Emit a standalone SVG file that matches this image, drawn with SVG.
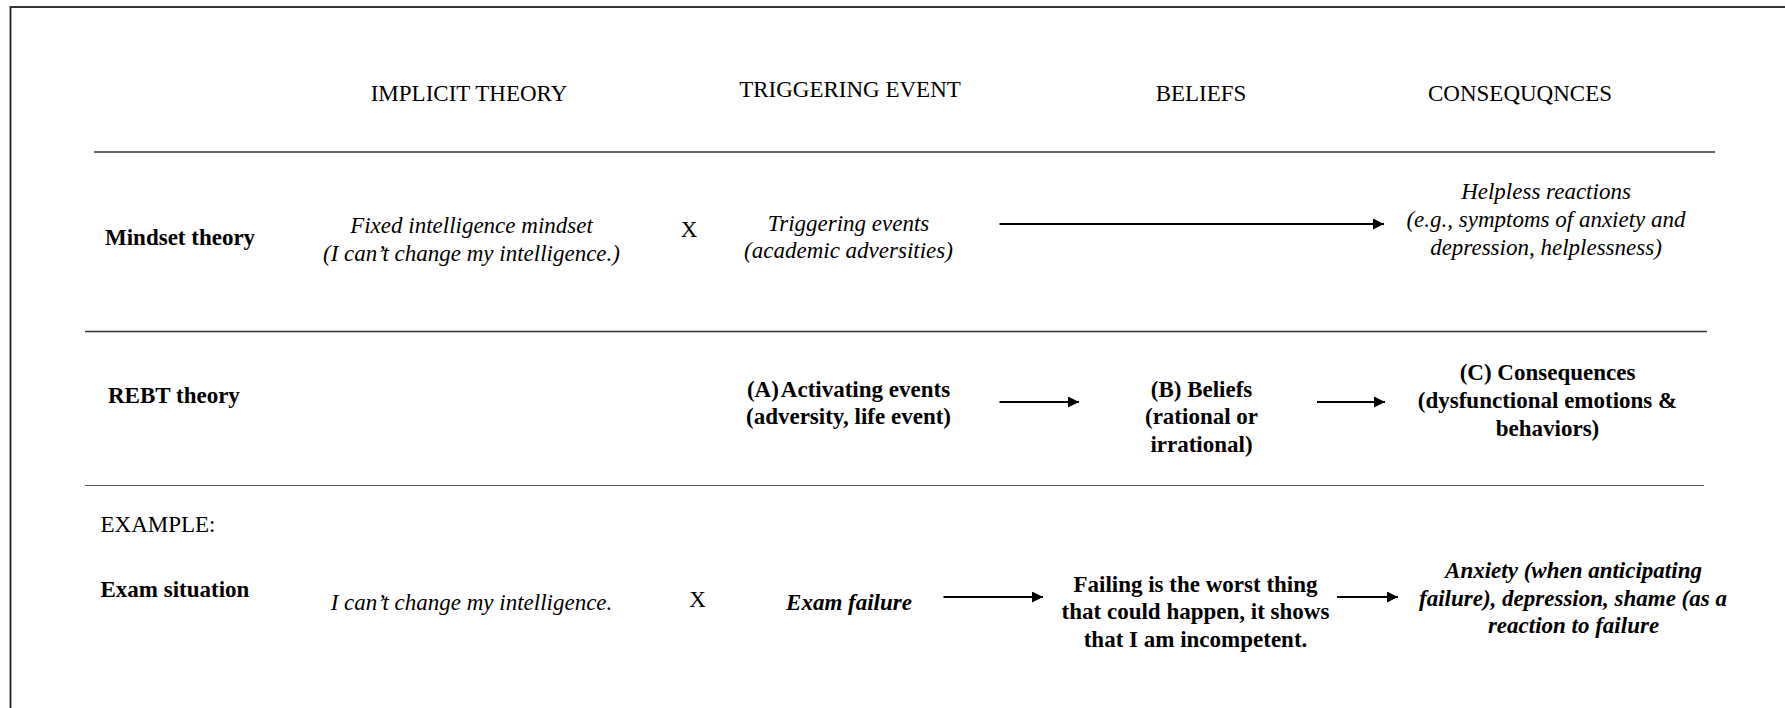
<svg xmlns="http://www.w3.org/2000/svg" width="1785" height="708" viewBox="0 0 1785 708">
<style>
text{font-family:"Liberation Serif","Times New Roman",serif;font-size:23px;fill:#000;}
.c{text-anchor:middle;}
.b{font-weight:bold;}
.i{font-style:italic;}
.rule{stroke:#333;stroke-width:1.6;fill:none;}
.rule2{stroke:#555;stroke-width:1.2;fill:none;}
.arr{stroke:#000;stroke-width:2.2;fill:none;marker-end:url(#ah);}
</style>
<defs>
<marker id="ah" markerUnits="userSpaceOnUse" markerWidth="12" markerHeight="12" refX="11" refY="5.5" orient="auto">
<path d="M0,0 L11,5.5 L0,11 z" fill="#000"/>
</marker>
</defs>
<rect x="0" y="0" width="1785" height="708" fill="#fff"/>
<rect id="frame" x="10.5" y="7" width="1800" height="720" fill="none" stroke="#222" stroke-width="1.8"/>

<g id="rules">
<line class="rule" x1="94" y1="152" x2="1715" y2="152"/>
<line class="rule" x1="85" y1="331.5" x2="1707" y2="331.5"/>
<line class="rule2" x1="85" y1="485.5" x2="1704" y2="485.5"/>
</g>

<g id="headers">
<text id="h-implicit" class="c" x="469" y="101">IMPLICIT THEORY</text>
<text id="h-trigger" class="c" x="850" y="97">TRIGGERING EVENT</text>
<text id="h-beliefs" class="c" x="1201" y="101">BELIEFS</text>
<text id="h-cons" class="c" x="1520" y="101">CONSEQUQNCES</text>
</g>

<g id="mindset-label"><text class="b" x="105" y="245">Mindset theory</text></g>
<g id="mindset-implicit">
<text class="c i" x="471.5" y="233">Fixed intelligence mindset</text>
<text class="c i" x="471.5" y="261">(I can’t change my intelligence.)</text>
</g>
<g id="mindset-x"><text class="c" x="689" y="236.5">X</text></g>
<g id="mindset-trigger">
<text class="c i" x="848.5" y="231">Triggering events</text>
<text class="c i" x="848.5" y="258">(academic adversities)</text>
</g>
<g id="mindset-cons">
<text class="c i" x="1546" y="199">Helpless reactions</text>
<text class="c i" x="1546" y="227">(e.g., symptoms of anxiety and</text>
<text class="c i" x="1546" y="255">depression, helplessness)</text>
</g>

<g id="rebt-label"><text class="b" x="108" y="403">REBT theory</text></g>
<g id="rebt-a">
<text class="c b" x="848.5" y="397">(A)<tspan dx="2">Activating events</tspan></text>
<text class="c b" x="848.5" y="424">(adversity, life event)</text>
</g>
<g id="rebt-b">
<text class="c b" x="1201.5" y="397">(B) Beliefs</text>
<text class="c b" x="1201.5" y="424">(rational or</text>
<text class="c b" x="1201.5" y="451.5">irrational)</text>
</g>
<g id="rebt-c">
<text class="c b" x="1547.5" y="380">(C) Consequences</text>
<text class="c b" x="1547.5" y="408">(dysfunctional emotions &amp;</text>
<text class="c b" x="1547.5" y="436">behaviors)</text>
</g>

<g id="example-label"><text x="100.5" y="531.5">EXAMPLE:</text></g>
<g id="exam-label"><text class="b" x="100.5" y="596.5">Exam situation</text></g>
<g id="exam-implicit"><text class="c i" x="471.5" y="610">I can’t change my intelligence.</text></g>
<g id="exam-x"><text class="c" x="697.5" y="606.5">X</text></g>
<g id="exam-trigger"><text class="c b i" x="849" y="610">Exam failure</text></g>
<g id="exam-belief">
<text class="c b" x="1195.5" y="591.5">Failing is the worst thing</text>
<text class="c b" x="1195.5" y="618.5">that could happen, it shows</text>
<text class="c b" x="1195.5" y="646.5">that I am incompetent.</text>
</g>
<g id="exam-cons">
<text class="c b i" x="1573.5" y="578">Anxiety (when anticipating</text>
<text class="c b i" x="1573" y="606">failure), depression, shame (as a</text>
<text class="c b i" x="1573.5" y="633">reaction to failure</text>
</g>

<g id="connectors">
<line class="arr" x1="999.5" y1="224" x2="1384" y2="224"/>
<line class="arr" x1="999.5" y1="402" x2="1079" y2="402"/>
<line class="arr" x1="1317" y1="402" x2="1385" y2="402"/>
<line class="arr" x1="943.5" y1="597" x2="1043" y2="597"/>
<line class="arr" x1="1337" y1="597" x2="1398" y2="597"/>
</g>
</svg>
